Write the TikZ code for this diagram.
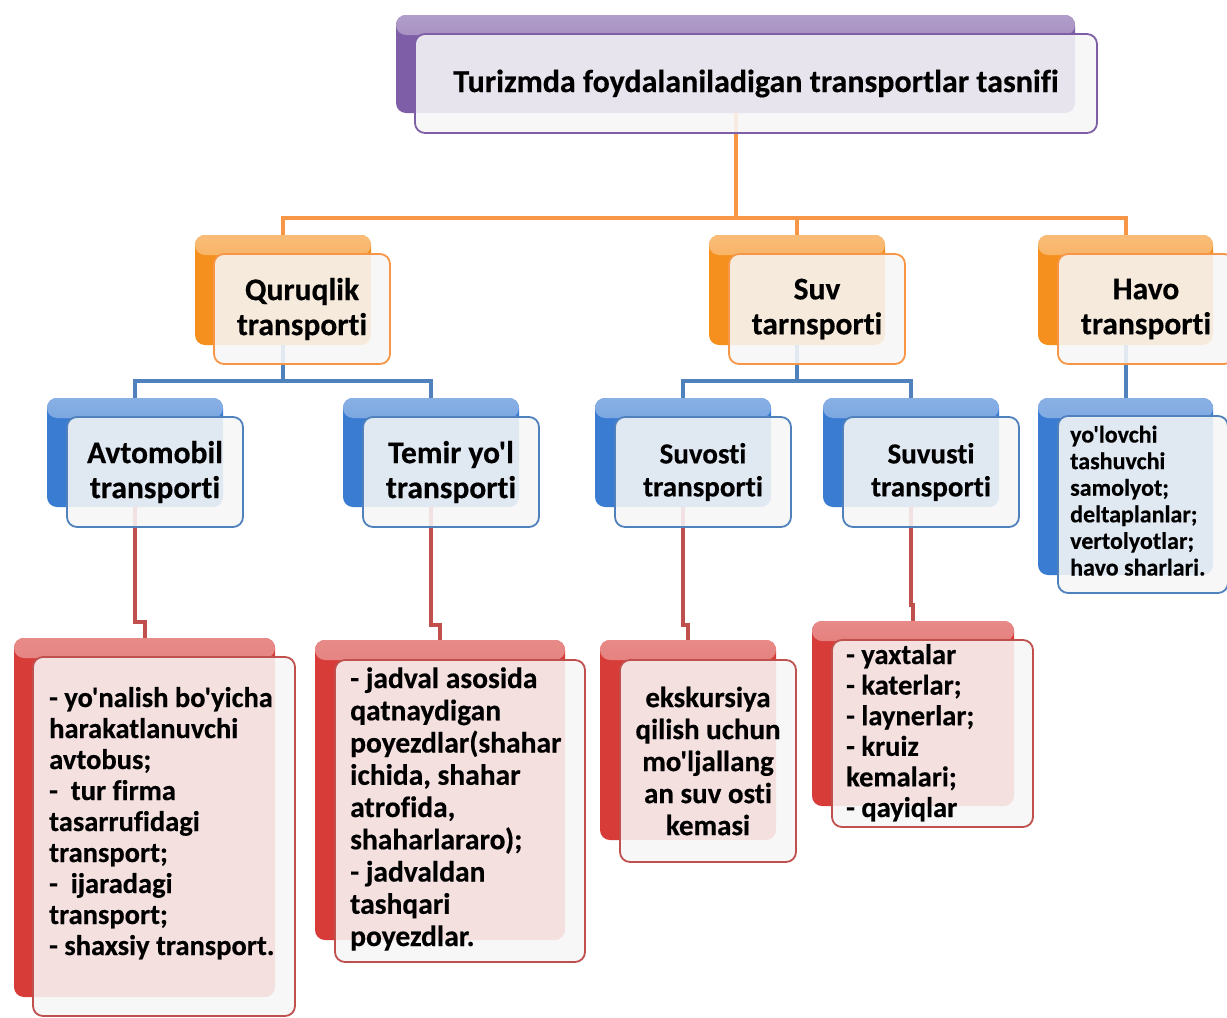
\documentclass[tikz,border=0pt]{standalone}
\usepackage{fontspec}
\newfontfamily\cf{Carlito}[Ligatures={NoCommon}, BoldFeatures={FakeBold=0.4}]
\definecolor{purp}{HTML}{7E5EA6}
\definecolor{orng}{HTML}{F5901E}
\definecolor{blu}{HTML}{3B7CD3}
\definecolor{rd}{HTML}{D73C39}
\definecolor{oline}{HTML}{F79646}
\definecolor{bline}{HTML}{4F81BD}
\definecolor{rline}{HTML}{C0504D}
\tikzset{
  bkfill/.style={rectangle, rounded corners=10pt, inner sep=0pt, draw=none, fill=#1},
  fr/.style={rectangle, rounded corners=10pt, inner sep=0pt, draw=#1, line width=1.8pt,
    fill=black!3, fill opacity=0.88, text opacity=1, align=center},
  conn/.style={line width=4pt, draw=#1},
  ftitle/.style={font=\cf\bfseries\fontsize{32}{35}\selectfont},
  fbig/.style={font=\cf\bfseries\fontsize{31.5}{35}\selectfont},
  fmid/.style={font=\cf\bfseries\fontsize{29}{33}\selectfont},
  fleaf/.style={font=\cf\bfseries\fontsize{28.5}{31}\selectfont},
  fsmall/.style={font=\cf\bfseries\fontsize{24}{26.6}\selectfont},
  ltext/.style={anchor=base west, inner sep=0pt, align=flush left, text width=#1},
}
\newcommand{\backbox}[5]{% name, color, cx, cy, size
  \node[bkfill=#2, #5,
    path picture={\shade[top color=#2!60!white, bottom color=#2]
      (path picture bounding box.north west) rectangle ([yshift=-20pt]path picture bounding box.north east);}]
    (#1) at (#3,#4) {};
}
\begin{document}
\begin{tikzpicture}[x=1pt,y=-1pt]
\useasboundingbox (0,0) rectangle (1227,1018);
\clip (0,0) rectangle (1227,1018);
\fill[white] (0,0) rectangle (1227,1018);

% jog coordinates
\coordinate (ob) at (0,218);
\coordinate (bb) at (0,381);
\coordinate (j1) at (0,622);
\coordinate (j2) at (0,625);
\coordinate (j4) at (0,605);

% back boxes
\backbox{titleB}{purp}{735.5}{64}{minimum width=679, minimum height=98}
\backbox{qB}{orng}{283}{290}{minimum width=176, minimum height=110}
\backbox{sB}{orng}{797}{290}{minimum width=176, minimum height=110}
\backbox{hB}{orng}{1125.5}{290}{minimum width=175, minimum height=110}
\backbox{aB}{blu}{135}{452.5}{minimum width=176, minimum height=109}
\backbox{tB}{blu}{431}{452.5}{minimum width=176, minimum height=109}
\backbox{soB}{blu}{683}{452.5}{minimum width=176, minimum height=109}
\backbox{suB}{blu}{911}{452.5}{minimum width=176, minimum height=109}
\backbox{hlB}{blu}{1125.5}{486.5}{minimum width=175, minimum height=177}
\backbox{l1B}{rd}{144.5}{817.5}{minimum width=261, minimum height=359}
\backbox{l2B}{rd}{440}{790}{minimum width=250, minimum height=300}
\backbox{l3B}{rd}{688}{740}{minimum width=176, minimum height=200}
\backbox{l4B}{rd}{913}{713.5}{minimum width=202, minimum height=185}

% connectors
\draw[conn=oline] (titleB.south) -- (titleB.south |- ob);
\draw[conn=oline] (qB.north) -- (qB.north |- ob) -- (hB.north |- ob) -- (hB.north);
\draw[conn=oline] (sB.north |- ob) -- (sB.north);
\draw[conn=bline] (qB.south) -- (qB.south |- bb);
\draw[conn=bline] (aB.north) -- (aB.north |- bb) -- (tB.north |- bb) -- (tB.north);
\draw[conn=bline] (sB.south) -- (sB.south |- bb);
\draw[conn=bline] (soB.north) -- (soB.north |- bb) -- (suB.north |- bb) -- (suB.north);
\draw[conn=bline] (hB.south) -- (hlB.north);
\draw[conn=rline] (aB.south) -- (aB.south |- j1) -| (l1B.north);
\draw[conn=rline] (tB.south) -- (tB.south |- j2) -| (l2B.north);
\draw[conn=rline] (soB.south) -- (soB.south |- j2) -| (l3B.north);
\draw[conn=rline] (suB.south) -- (suB.south |- j4) -| (l4B.north);

% front boxes
\node[fr=purp, ftitle, minimum width=682, minimum height=99] (titleF) at (756,83.5)
  {Turizmda foydalaniladigan transportlar tasnifi};
\node[fr=oline, fbig, minimum width=176, minimum height=110] (qF) at (302,309) {Quruqlik\\transporti};
\node[fr=oline, fbig, minimum width=176, minimum height=110] (sF) at (817,309) {Suv\\tarnsporti};
\node[fr=oline, fbig, minimum width=176, minimum height=110] (hF) at (1146,309) {Havo\\transporti};
\node[fr=bline, fbig, minimum width=176, minimum height=110] (aF) at (155,472) {Avtomobil\\transporti};
\node[fr=bline, fbig, minimum width=176, minimum height=110] (tF) at (451,472) {Temir yo'l\\transporti};
\node[fr=bline, fmid, minimum width=176, minimum height=110] (soF) at (703,472) {Suvosti\\transporti};
\node[fr=bline, fmid, minimum width=176, minimum height=110] (suF) at (931,472) {Suvusti\\transporti};
\node[fr=bline, minimum width=170, minimum height=177] (hlF) at (1143,504.5) {};
\node[fr=rline, minimum width=262, minimum height=359] (l1F) at (164,836.5) {};
\node[fr=rline, minimum width=250, minimum height=302] (l2F) at (460,811) {};
\node[fr=rline, font=\cf\bfseries\fontsize{29}{32}\selectfont, minimum width=176, minimum height=202] (l3F) at (708,761)
  {ekskursiya\\qilish uchun\\mo'ljallang\\an suv osti\\kemasi};
\node[fr=rline, minimum width=201, minimum height=187] (l4F) at (932.5,733.5) {};

% left-aligned texts
\node[ltext=170, fsmall] (hlT) at (1070,442.5)
  {yo'lovchi\\tashuvchi\\samolyot;\\deltaplanlar;\\vertolyotlar;\\havo sharlari.};
\node[ltext=250, fleaf] (l1T) at (49,707)
  {- yo'nalish bo'yicha\\harakatlanuvchi\\avtobus;\\-~ tur firma\\tasarrufidagi\\transport;\\-~ ijaradagi\\transport;\\- shaxsiy transport.};
\node[ltext=240, font=\cf\bfseries\fontsize{29.5}{32.25}\selectfont] (l2T) at (350,688)
  {- jadval asosida\\qatnaydigan\\poyezdlar(shahar\\ichida, shahar\\atrofida,\\shaharlararo);\\- jadvaldan\\tashqari\\poyezdlar.};
\node[ltext=190, font=\cf\bfseries\fontsize{28.5}{30.6}\selectfont] (l4T) at (846,664)
  {- yaxtalar\\- katerlar;\\- laynerlar;\\- kruiz\\kemalari;\\- qayiqlar};
\end{tikzpicture}
\end{document}
